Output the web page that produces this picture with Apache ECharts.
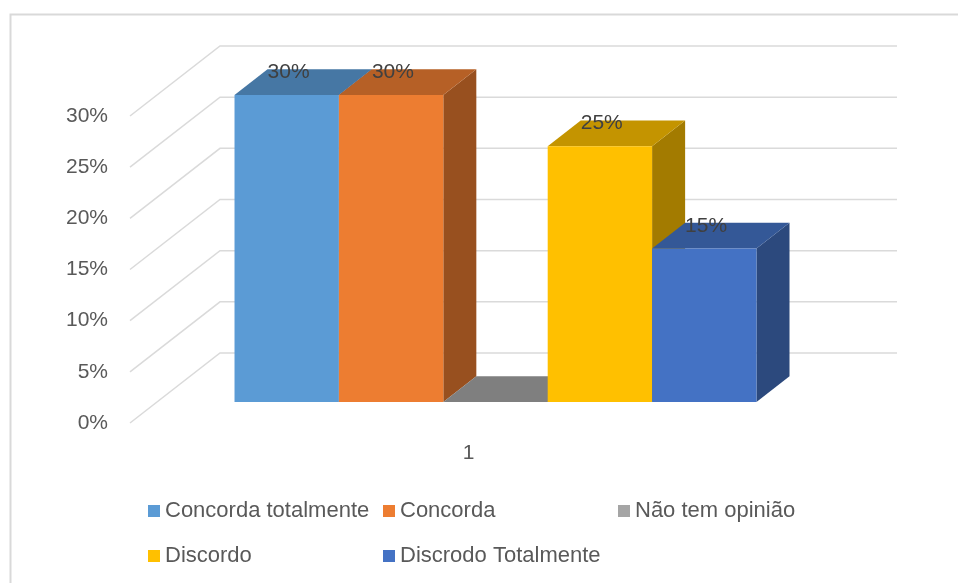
<!DOCTYPE html>
<html>
<head>
<meta charset="utf-8">
<script src="https://cdn.jsdelivr.net/npm/echarts@6/dist/echarts.min.js"></script>
<style>
  html, body { margin: 0; padding: 0; background: #fff; }
  #main { width: 958px; height: 583px; }
</style>
</head>
<body>
<div id="main"></div>
<script>
// data
const categories = ['1'];
const seriesNames = ['Concorda totalmente', 'Concorda', 'Não tem opinião', 'Discordo', 'Discrodo Totalmente'];
const seriesValues = [0.30, 0.30, 0.00, 0.25, 0.15];
const yTicks = [0, 0.05, 0.10, 0.15, 0.20, 0.25, 0.30];

// look
const colors = ['#5B9BD5', '#ED7D31', '#A5A5A5', '#FFC000', '#4472C4'];
const FONT = 'Liberation Sans';
const DEPTH_X = 90, DEPTH_Y = -70;   // full depth of the 3d box (floor front -> back wall)
const BAR_FRONT = 0.3, BAR_BACK = 0.667;
const BAR_W = 0.1542;                 // share of the band per bar

function shade(hex, k) {
    let n = parseInt(hex.slice(1), 16);
    let r = Math.round(((n >> 16) & 255) * k);
    let g = Math.round(((n >> 8) & 255) * k);
    let b = Math.round((n & 255) * k);
    return 'rgb(' + r + ',' + g + ',' + b + ')';
}

let myChart = echarts.init(document.getElementById('main'));

// back wall + side wall gridlines
let gridSeries = {
    type: 'custom',
    name: 'grid',
    silent: true,
    z: 1,
    data: yTicks.map(v => [0, v]),
    encode: { x: 0, y: 1 },
    renderItem: function (params, api) {
        let cs = params.coordSys;
        let p = api.coord([0, api.value(1)]);
        let x0 = cs.x;
        return {
            type: 'polyline',
            shape: {
                points: [
                    [x0, p[1]],
                    [x0 + DEPTH_X, p[1] + DEPTH_Y],
                    [x0 + cs.width + DEPTH_X, p[1] + DEPTH_Y]
                ]
            },
            style: { stroke: '#dadada', lineWidth: 1.5, fill: null }
        };
    }
};

function barSeries(k) {
    return {
        type: 'custom',
        name: seriesNames[k],
        z: 2,
        itemStyle: { color: colors[k] },
        data: [[0, seriesValues[k]]],
        encode: { x: 0, y: 1 },
        renderItem: function (params, api) {
            let val = api.value(1);
            let base = api.coord([0, 0]);
            let top = api.coord([0, val]);
            let band = api.size([1, 0])[0];
            let bw = band * BAR_W;
            let x0 = base[0] + (k - 2.5) * bw;
            let x1 = x0 + bw;
            let fx = DEPTH_X * BAR_FRONT, fy = DEPTH_Y * BAR_FRONT;
            let bx = DEPTH_X * BAR_BACK, by = DEPTH_Y * BAR_BACK;
            let yb = base[1], yt = top[1];
            let c = colors[k];
            let children = [
                {
                    type: 'polygon',
                    shape: { points: [[x1 + fx, yb + fy], [x1 + bx, yb + by], [x1 + bx, yt + by], [x1 + fx, yt + fy]] },
                    style: { fill: shade(c, 0.64) }
                },
                {
                    type: 'polygon',
                    shape: { points: [[x0 + fx, yt + fy], [x1 + fx, yt + fy], [x1 + bx, yt + by], [x0 + bx, yt + by]] },
                    style: { fill: shade(c, 0.77) }
                },
                {
                    type: 'polygon',
                    shape: { points: [[x0 + fx, yb + fy], [x1 + fx, yb + fy], [x1 + fx, yt + fy], [x0 + fx, yt + fy]] },
                    style: { fill: c }
                }
            ];
            if (val > 0) {
                children.push({
                    type: 'text',
                    z2: 10,
                    style: {
                        x: x0 + bx,
                        y: yt + by + 3,
                        text: Math.round(val * 100) + '%',
                        fill: '#404040',
                        font: '21px "' + FONT + '"',
                        align: 'left',
                        verticalAlign: 'middle'
                    }
                });
            }
            return { type: 'group', children: children };
        }
    };
}

let option = {
    animation: false,
    backgroundColor: '#fff',
    textStyle: { fontFamily: FONT },
    graphic: [
        {
            type: 'rect',
            left: 8, top: 12,
            shape: { width: 1000, height: 700 },
            style: { fill: null, stroke: '#d9d9d9', lineWidth: 2 },
            silent: true
        }
    ],
    grid: { left: 130, right: 151, top: 116, bottom: 160 },
    xAxis: {
        type: 'category',
        data: categories,
        axisLine: { show: false },
        axisTick: { show: false },
        axisLabel: { color: '#595959', fontSize: 21, margin: 19, lineHeight: 22 }
    },
    yAxis: {
        type: 'value',
        min: 0,
        max: 0.3,
        interval: 0.05,
        axisLine: { show: false },
        axisTick: { show: false },
        splitLine: { show: false },
        axisLabel: {
            color: '#595959',
            fontSize: 21,
            margin: 22,
            formatter: v => Math.round(v * 100) + '%'
        }
    },
    legend: {
        data: seriesNames,
        left: 148,
        top: 495,
        width: 720,
        padding: 0,
        icon: 'rect',
        itemWidth: 12,
        itemHeight: 12,
        itemGap: 13,
        textStyle: { color: '#595959', fontSize: 22, width: 205, lineHeight: 32 }
    },
    series: [gridSeries].concat(seriesNames.map((n, k) => barSeries(k)))
};

myChart.setOption(option);
</script>
</body>
</html>
